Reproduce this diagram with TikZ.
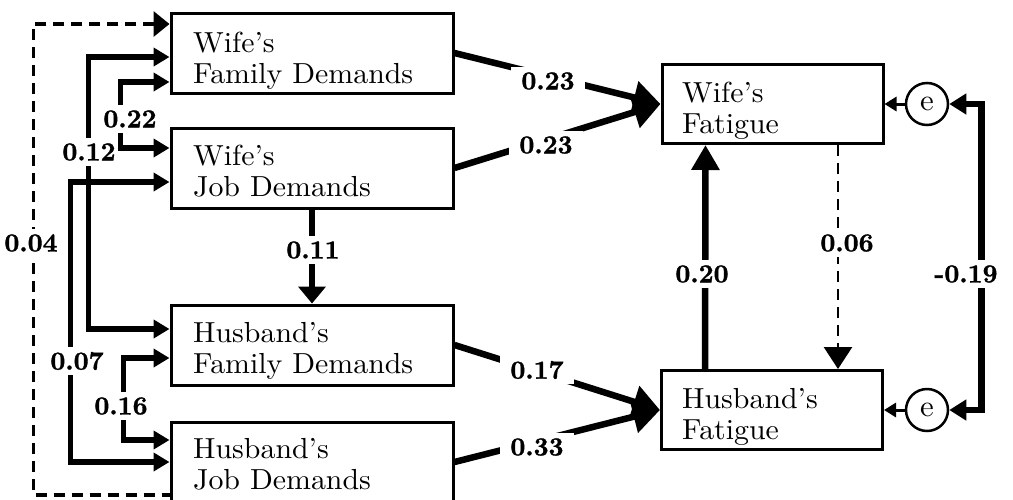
\documentclass[tikz,border=0pt]{standalone}
\usepackage{fontspec}
\newfontfamily\boxfont{lmroman10-regular}[Extension=.otf, Ligatures=TeX, FakeStretch=1.03]
\newfontfamily\numfont{lmroman10-bold}[Extension=.otf, FakeBold=1.2]
\usetikzlibrary{arrows.meta}
\begin{document}
\begin{tikzpicture}[x=1pt,y=-1pt,
  box/.style={draw, line width=3pt, minimum width=282pt, minimum height=80pt, inner sep=0pt},
  fbox/.style={draw, line width=3pt, minimum width=221pt, minimum height=79pt, inner sep=0pt},
  btext/.style={anchor=north west, align=left, inner sep=0pt, font=\boxfont\fontsize{29}{31}\selectfont},
  coef/.style={fill=white, inner xsep=1pt, inner ysep=5pt, font=\numfont\fontsize{26}{28}\selectfont},
  wcoef/.style={coef, inner xsep=10pt},
  err/.style={draw, circle, line width=2.5pt, minimum size=42pt, inner sep=0pt, font=\boxfont\fontsize{30}{30}\selectfont},
  corr/.style={line width=5.5pt, {Triangle[length=16pt,width=18pt]}-{Triangle[length=16pt,width=18pt]}},
  dcorr/.style={line width=3.5pt, dash pattern=on 11pt off 7pt, {Triangle[length=16pt,width=25pt]}-},
  path/.style={line width=6.5pt, -{Triangle[length=27pt,width=32pt]}},
  vpath/.style={line width=6.5pt, -{Triangle[length=17pt,width=27pt]}},
  upath/.style={line width=6.5pt, -{Triangle[length=25pt,width=27pt]}},
  dpath/.style={line width=2.8pt, dash pattern=on 11pt off 7pt, -{Triangle[length=22pt,width=28pt]}},
  epath/.style={line width=3pt, -{Triangle[length=12pt,width=14pt]}},
  ecorr/.style={line width=6.5pt, {Triangle[length=17pt,width=20pt]}-{Triangle[length=17pt,width=20pt]}}
]
\useasboundingbox (0,0) rectangle (1013,499);

% boxes
\node[box] (wfd) at (312,53) {};
\node[box] (wjd) at (312,168) {};
\node[box] (hfd) at (312,345) {};
\node[box] (hjd) at (312,462) {};
\node[fbox] (wf) at (772.5,104) {};
\node[fbox] (hf) at (772,410) {};
\node[err] (ew) at (927,104) {e};
\node[err] (eh) at (927,410) {e};

% box texts
\node[btext] (wfdt) at (193,32) {Wife’s\\Family Demands};
\node[btext] (wjdt) at (193,145) {Wife’s\\Job Demands};
\node[btext] (hfdt) at (193,322) {Husband’s\\Family Demands};
\node[btext] (hjdt) at (193,438) {Husband’s\\Job Demands};
\node[btext] (wft) at (682,82) {Wife’s\\Fatigue};
\node[btext] (hft) at (682,388) {Husband’s\\Fatigue};

% left correlations
\draw[dcorr] ([yshift=29pt]wfd.west) -- ++(-136,0) |- ([yshift=-33pt]hjd.west);
\draw[corr] ([yshift=-4pt]wfd.west) -- ++(-81,0) |- ([yshift=16pt]hfd.west);
\draw[corr] ([yshift=-29pt]wfd.west) -- ++(-49,0) |- ([yshift=20pt]wjd.west);
\draw[corr] ([yshift=-14pt]wjd.west) -- ++(-99,0) |- (hjd.west);
\draw[corr] ([yshift=-13pt]hfd.west) -- ++(-46,0) |- ([yshift=22pt]hjd.west);

% regressions
\draw[vpath] (wjd.south) -- (hfd.north);
\draw[path] (wfd.east) -- (wf.west);
\draw[path] (wjd.east) -- (wf.west);
\draw[path] (hfd.east) -- (hf.west);
\draw[path] (hjd.east) -- (hf.west);
\draw[upath] ([xshift=-67pt]hf.north) -- ([xshift=-67pt]wf.south);
\draw[dpath] ([xshift=65.5pt]wf.south) -- ([xshift=66pt]hf.north);

% errors
\draw[epath] (ew.west) -- (wf.east);
\draw[epath] (eh.west) -- (hf.east);
\draw[ecorr] (ew.east) -- ++(32,0) |- (eh.east);

% coefficients
\node[coef] (c04) at (31,243) {0.04};
\node[coef] (c12) at (89,152) {0.12};
\node[coef] (c22) at (130,119) {0.22};
\node[coef] (c07) at (77,361) {0.07};
\node[coef] (c16) at (121,406) {0.16};
\node[coef] (c11) at (313,250) {0.11};
\node[wcoef] (c23a) at (548,81) {0.23};
\node[wcoef] (c23b) at (546,145) {0.23};
\node[wcoef] (c17) at (537,370) {0.17};
\node[wcoef] (c33) at (537,447) {0.33};
\node[coef] (c20) at (702,274) {0.20};
\node[coef] (c06) at (847,243) {0.06};
\node[coef] (c19) at (966,274) {-0.19};
\end{tikzpicture}
\end{document}
